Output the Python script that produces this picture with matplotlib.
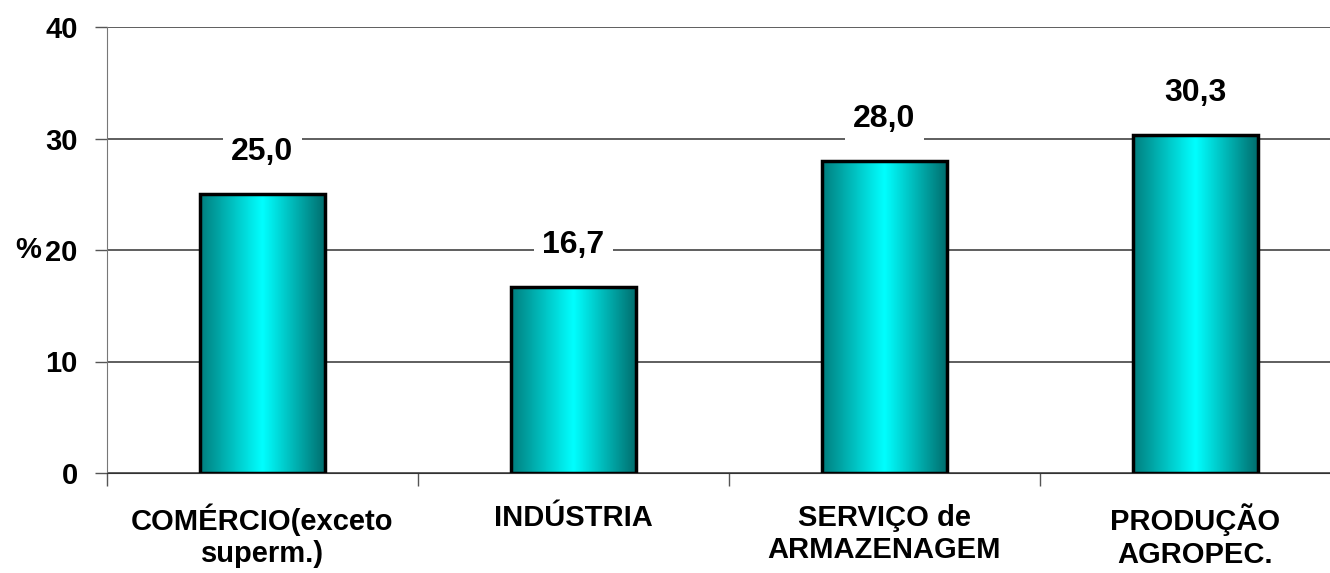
import numpy as np
import matplotlib
matplotlib.use('Agg')
import matplotlib.pyplot as plt
from matplotlib.colors import LinearSegmentedColormap

plt.rcParams['font.family'] = ['Liberation Sans', 'DejaVu Sans']
plt.rcParams['font.weight'] = 'bold'

# ── Data ──────────────────────────────────────────────────────────────────────
categories = ['COMÉRCIO(exceto\nsuperm.)', 'INDÚSTRIA', 'SERVIÇO de\nARMAZENAGEM', 'PRODUÇÃO\nAGROPEC.']
values = [25.0, 16.7, 28.0, 30.3]
value_labels = ['25,0', '16,7', '28,0', '30,3']
yticks = [0, 10, 20, 30, 40]

W, H = 1330, 573
fig = plt.figure(figsize=(W / 100, H / 100), dpi=100)
# axes spans x 107..1351 px (right part cut off by figure edge), y 27..473 px
ax = fig.add_axes([107 / W, (H - 473) / H, (1351 - 107) / W, (473 - 27) / H])

x = np.arange(len(categories))
bw = 0.4
cmap = LinearSegmentedColormap.from_list(
    'cyl', [(0.0, '#007e7e'), (0.5, '#00ffff'), (1.0, '#006e6e')])
grad = np.linspace(0, 1, 256).reshape(1, -1)

bars = ax.bar(x, values, width=bw, color='none', edgecolor='black', linewidth=2.5, zorder=3)
for b in bars:
    x0, y0 = b.get_x(), b.get_y()
    im = ax.imshow(grad, cmap=cmap, aspect='auto', extent=[x0, x0 + b.get_width(), y0, y0 + b.get_height()],
                   zorder=2, interpolation='bicubic')
    im.set_clip_path(b)

for xi, v, lab in zip(x, values, value_labels):
    ax.annotate(lab, (xi, v), xytext=(0, 42), textcoords='offset pixels', ha='center', va='center',
                fontsize=23, fontweight='bold', zorder=4,
                bbox=dict(boxstyle='square,pad=0.25', facecolor='white', edgecolor='none'))

ax.set_xlim(-0.5, 3.5)
ax.set_ylim(0, 40)
ax.set_yticks(yticks)
ax.set_yticklabels([str(t) for t in yticks], fontsize=21, fontweight='bold')
ax.yaxis.grid(True, color='#333333', linewidth=1.1, zorder=0)
ax.set_axisbelow(True)

ax.set_xticks(np.arange(-0.5, 4.0, 1.0))
ax.set_xticklabels([])
ax.set_xticks(x, minor=True)
ax.set_xticklabels(categories, minor=True, fontsize=21, fontweight='bold', linespacing=1.2)
ax.tick_params(axis='x', which='minor', length=0, pad=22)
ax.tick_params(axis='x', which='major', length=9, width=1, color='#555555')
ax.tick_params(axis='y', length=9, width=1, color='#555555', pad=12)

for s in ['top', 'right']:
    ax.spines[s].set_visible(False)
ax.spines['left'].set_color('#777777')
ax.spines['bottom'].set_color('#333333')

fig.text(41 / W, 1 - 250 / H, '%', fontsize=21, fontweight='bold', ha='right', va='center')

fig.savefig('out.png', dpi=100)
